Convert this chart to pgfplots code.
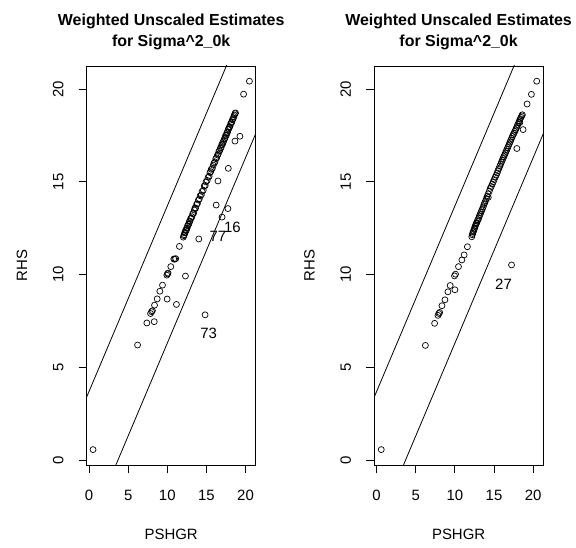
\documentclass[border=0pt]{standalone}
\usepackage{fontspec}
\setmainfont{Liberation Sans}
\usepackage{pgfplots}
\usepackage{pgfplotstable}
\pgfplotsset{compat=1.18}

\pgfplotstableread{
x y
0.51 0.56
6.20 6.20
7.39 7.39
8.33 7.46
7.86 7.90
7.99 8.00
8.10 8.05
8.37 8.35
8.71 8.69
9.98 8.68
11.17 8.39
9.05 9.10
9.39 9.43
9.94 9.97
10.03 10.04
10.10 10.08
10.45 10.43
10.83 10.84
10.96 10.83
11.08 10.86
12.32 9.92
14.83 7.83
11.55 11.52
14.03 11.92
16.25 13.75
17.00 13.10
17.75 13.56
17.80 15.73
16.48 15.05
18.65 17.20
19.28 17.46
19.75 19.73
20.50 20.43
12.05 12.02
12.12 12.10
12.18 12.15
12.22 12.25
12.30 12.28
12.35 12.40
12.42 12.38
12.48 12.50
12.55 12.52
12.60 12.63
12.68 12.70
12.75 12.72
12.82 12.86
12.90 12.88
12.98 13.02
13.05 13.05
13.15 13.12
13.25 13.28
13.35 13.30
13.45 13.48
13.55 13.60
13.62 13.58
13.75 13.80
13.85 13.82
13.98 14.02
14.10 14.08
14.20 14.25
14.35 14.30
14.45 14.48
14.60 14.55
14.72 14.78
14.85 14.80
14.95 15.00
15.10 15.08
15.22 15.25
15.35 15.30
15.45 15.50
15.55 15.55
15.62 15.68
15.75 15.72
15.88 15.90
15.98 16.02
16.10 16.08
16.20 16.25
16.32 16.30
16.42 16.45
16.52 16.50
16.60 16.65
16.70 16.68
16.78 16.82
16.88 16.85
16.95 17.00
17.05 17.02
17.12 17.15
17.22 17.20
17.30 17.32
17.38 17.36
17.45 17.50
17.55 17.52
17.62 17.65
17.70 17.68
17.78 17.82
17.85 17.86
17.92 17.95
18.00 17.98
18.08 18.10
18.15 18.18
18.25 18.22
18.32 18.35
18.42 18.40
18.50 18.52
18.58 18.60
18.65 18.68
18.72 18.72
}\leftdata

\pgfplotstableread{
x y
0.59 0.56
6.23 6.18
7.41 7.37
7.84 7.80
7.95 7.90
8.05 7.96
8.35 8.32
8.73 8.64
9.11 9.07
9.40 9.41
10.00 9.18
9.95 9.93
10.08 10.02
10.46 10.43
10.89 10.79
11.18 11.06
17.24 10.52
11.60 11.50
18.72 17.82
17.92 16.80
19.23 19.20
19.78 19.72
20.46 20.43
14.27 14.16
12.16 12.04
12.22 12.15
12.28 12.22
12.33 12.30
12.40 12.36
12.46 12.45
12.52 12.50
12.58 12.60
12.65 12.66
12.72 12.75
12.80 12.80
12.88 12.90
12.95 12.96
13.05 13.04
13.12 13.15
13.22 13.24
13.32 13.35
13.42 13.45
13.52 13.55
13.62 13.65
13.72 13.78
13.82 13.88
13.92 13.98
14.02 14.10
14.12 14.22
14.25 14.35
14.40 14.50
14.52 14.65
14.65 14.75
14.78 14.88
14.90 15.00
15.02 15.12
15.15 15.25
15.28 15.36
15.40 15.48
15.50 15.60
15.62 15.72
15.75 15.85
15.85 15.95
15.95 16.06
16.05 16.16
16.15 16.26
16.25 16.36
16.35 16.45
16.45 16.55
16.55 16.65
16.65 16.75
16.75 16.85
16.85 16.95
16.95 17.05
17.05 17.15
17.15 17.25
17.25 17.35
17.35 17.45
17.45 17.55
17.55 17.62
17.65 17.72
17.75 17.80
17.85 17.90
17.95 18.00
18.05 18.10
18.15 18.20
18.25 18.30
18.35 18.40
18.45 18.48
18.55 18.56
18.62 18.62
18.30 18.20
}\rightdata

\pgfplotsset{
  rpanel/.style={
    scale only axis,
    width=169bp, height=399bp,
    xmin=-0.3, xmax=21.3,
    ymin=-0.27, ymax=21.25,
    axis line style={line width=0.8bp},
    xtick={0,5,10,15,20},
    ytick={0,5,10,15,20},
    xtick pos=left, ytick pos=left,
    tick align=outside,
    major tick length=8bp,
    tick style={line width=0.8bp, black},
    /pgf/number format/assume math mode=true,
    ticklabel style={font=\fontsize{15}{18}\selectfont},
    xticklabel style={anchor=base, inner sep=0pt},
    xticklabel shift=27.4bp,
    yticklabel style={rotate=90, anchor=base, inner sep=0pt},
    yticklabel shift=15.4bp,
  },
  dots/.style={only marks, mark=o, mark size=3bp, mark options={line width=0.7bp, black}},
  refline/.style={black, line width=0.8bp, forget plot},
}

\begin{document}
\begin{tikzpicture}
\path[use as bounding box] (0bp,0bp) rectangle (576bp,548bp);

\begin{axis}[rpanel, at={(86.7bp,83bp)}, anchor=south west]
  \addplot[refline] coordinates {(-5,-1.3) (30,33.7)};
  \addplot[refline] coordinates {(-5,-8.7) (30,26.3)};
  \addplot[dots] table[x=x,y=y] {\leftdata};
  \node[font=\fontsize{15}{18}\selectfont, inner sep=0pt] at (axis cs:15.29,6.85) {73};
  \node[font=\fontsize{15}{18}\selectfont, inner sep=0pt] at (axis cs:16.46,12.07) {77};
  \node[font=\fontsize{15}{18}\selectfont, inner sep=0pt] at (axis cs:18.33,12.54) {16};
\end{axis}

\begin{axis}[rpanel, at={(374.3bp,83bp)}, anchor=south west]
  \addplot[refline] coordinates {(-5,-1.3) (30,33.7)};
  \addplot[refline] coordinates {(-5,-8.7) (30,26.3)};
  \addplot[dots] table[x=x,y=y] {\rightdata};
  \node[font=\fontsize{15}{18}\selectfont, inner sep=0pt] at (axis cs:16.22,9.49) {27};
\end{axis}

\foreach \cx in {171.2, 458.6} {
  \node[anchor=base, inner sep=0pt, font=\bfseries\fontsize{16}{19}\selectfont] at (\cx bp,522.5bp) {Weighted Unscaled Estimates};
  \node[anchor=base, inner sep=0pt, font=\bfseries\fontsize{16}{19}\selectfont] at (\cx bp,501bp) {for Sigma\textasciicircum 2\_0k};
  \node[anchor=base, inner sep=0pt, font=\fontsize{15}{18}\selectfont] at (\cx bp,8.8bp) {PSHGR};
}
\node[rotate=90, anchor=base, inner sep=0pt, font=\fontsize{15}{18}\selectfont] at (27bp,282.5bp) {RHS};
\node[rotate=90, anchor=base, inner sep=0pt, font=\fontsize{15}{18}\selectfont] at (314.6bp,282.5bp) {RHS};
\end{tikzpicture}
\end{document}
